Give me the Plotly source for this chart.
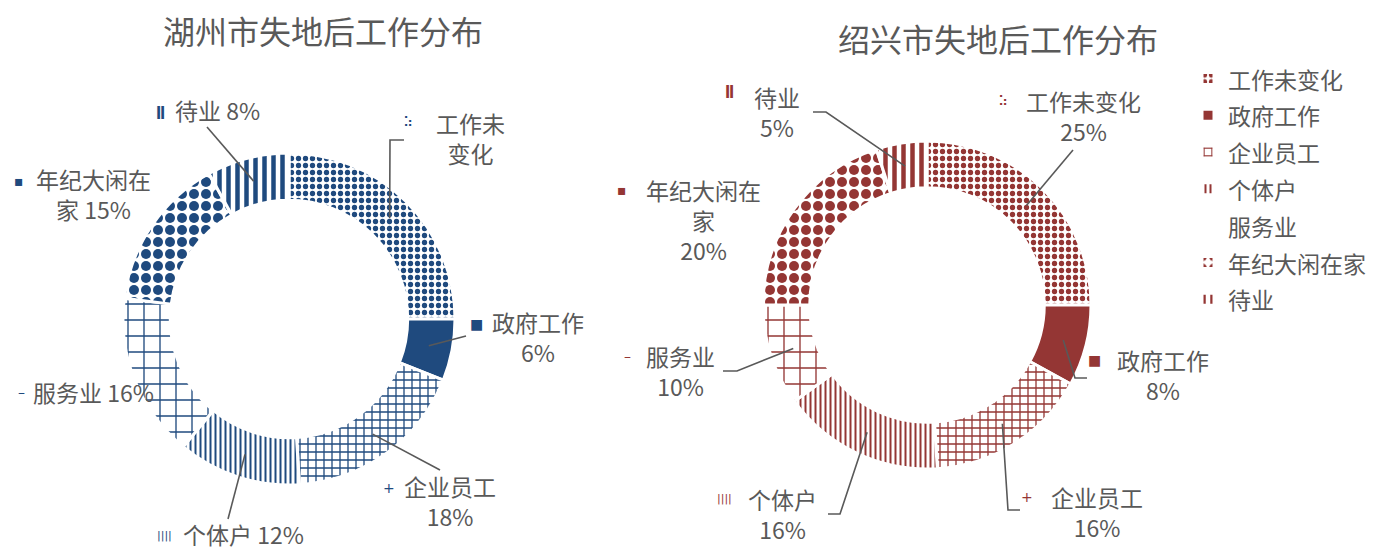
import math
import plotly.graph_objects as go

# the page adds an 8px body margin, so the figure is drawn 8px in from the window corner
PAGE_MARGIN = 8
W, H = 1376 - PAGE_MARGIN, 548 - PAGE_MARGIN

categories = ["工作未变化", "政府工作", "企业员工", "个体户", "服务业", "年纪大闲在家", "待业"]
huzhou_values = [25, 6, 18, 12, 16, 15, 8]
shaoxing_values = [25, 8, 16, 16, 10, 20, 5]

BLUE = "#1f4a7e"
RED = "#943634"
GREY = "#595959"
FONT = "Noto Sans CJK SC"

# pattern per category: (shape, size, solidity)
patterns = [(".", 7, 0.45), ("", 8, 1.0), ("+", 8, 0.3), ("|", 5, 0.4),
            ("+", 16, 0.16), (".", 12, 0.55), ("|", 9, 0.5)]
icons = ["⠵", "■", "+", "||||", "–", "▪", "<b>ǁ</b>"]


def px(x):
    return (x - PAGE_MARGIN) / W


def py(y):
    return 1 - (y - PAGE_MARGIN) / H


def pie(values, color, cx, cy, r, showlegend):
    # legend text drawn a bit smaller than the legend font to get wider row spacing
    legend_labels = [f"<span style='font-size:23px'>{c}</span>" for c in categories]
    return go.Pie(
        labels=legend_labels,
        values=values,
        sort=False,
        direction="clockwise",
        rotation=0,
        hole=0.715,
        textinfo="none",
        hoverinfo="skip",
        showlegend=showlegend,
        domain=dict(x=[px(cx - r), px(cx + r)], y=[py(cy + r), py(cy - r)]),
        marker=dict(
            colors=[color] * len(values),
            line=dict(color="white", width=3),
            pattern=dict(
                shape=[p[0] for p in patterns],
                size=[p[1] for p in patterns],
                solidity=[p[2] for p in patterns],
                fgcolor=color,
                bgcolor="white",
                fillmode="replace",
            ),
        ),
    )


def slice_anchor(values, i, cx, cy, r_mid):
    total = sum(values)
    ang = 2 * math.pi * (sum(values[:i]) + values[i] / 2) / total
    return cx + r_mid * math.sin(ang), cy - r_mid * math.cos(ang)


# chart geometry (window pixels): centre, outer radius
HZ = (289, 319, 166)
SX = (927, 305, 164)

# label layout per category: icon pos, text centre, text lines, leader elbow points
hz_labels = [
    ((408, 122), (470, 138), "工作未<br>变化", [(390, 140), (404, 140)]),
    ((476, 324), (538, 337), "政府工作<br>6%", [(466, 336)]),
    ((389, 488), (450, 501), "企业员工<br>18%", [(440, 470)]),
    ((164, 535), (243, 534), "个体户 12%", [(228, 519)]),
    ((21, 392), (93, 392), "服务业 16%", None),
    ((19, 181), (93, 194), "年纪大闲在<br>家 15%", None),
    ((160, 111), (217, 110), "待业 8%", [(207, 127)]),
]
sx_labels = [
    ((1003, 101), (1083, 116), "工作未变化<br>25%", [(1073, 150)]),
    ((1094, 360), (1163, 375), "政府工作<br>8%", [(1075, 378), (1087, 378)]),
    ((1027, 497), (1097, 512), "企业员工<br>16%", [(1008, 510), (1020, 510)]),
    ((724, 498), (782, 514), "个体户<br>16%", [(840, 514), (828, 514)]),
    ((627, 356), (680, 371), "服务业<br>10%", [(737, 371), (723, 371)]),
    ((622, 190), (703, 220), "年纪大闲在<br>家<br>20%", None),
    ((729, 90), (777, 112), "待业<br>5%", [(826, 112), (813, 112)]),
]

fig = go.Figure()
fig.add_trace(pie(huzhou_values, BLUE, *HZ, showlegend=False))
fig.add_trace(pie(shaoxing_values, RED, *SX, showlegend=True))

annotations = []
shapes = []
for values, color, geo, labels in [(huzhou_values, BLUE, HZ, hz_labels),
                                   (shaoxing_values, RED, SX, sx_labels)]:
    cx, cy, r = geo
    r_mid = r * (1 + 0.715) / 2
    for i, (icon_pos, text_pos, text, elbow) in enumerate(labels):
        annotations.append(dict(
            x=px(icon_pos[0]), y=py(icon_pos[1]), xref="paper", yref="paper",
            xanchor="center", yanchor="middle",
            text=icons[i], showarrow=False,
            font=dict(family="DejaVu Sans", size=11 if icons[i] == "||||" else 14, color=color),
        ))
        annotations.append(dict(
            x=px(text_pos[0]), y=py(text_pos[1]), xref="paper", yref="paper",
            xanchor="center", yanchor="middle",
            text=text, showarrow=False, align="center",
            font=dict(family=FONT, size=23, color=GREY),
        ))
        if elbow:
            ax, ay = slice_anchor(values, i, cx, cy, r_mid)
            pts = [(ax, ay)] + elbow
            path = "M " + " L ".join(f"{px(x):.5f},{py(y):.5f}" for x, y in pts)
            shapes.append(dict(type="path", path=path, xref="paper", yref="paper",
                               line=dict(color=GREY, width=1.6)))

annotations.append(dict(x=px(323), y=py(30), xref="paper", yref="paper",
                        xanchor="center", yanchor="middle",
                        text="湖州市失地后工作分布", showarrow=False,
                        font=dict(family=FONT, size=32, color=GREY)))
annotations.append(dict(x=px(998), y=py(38), xref="paper", yref="paper",
                        xanchor="center", yanchor="middle",
                        text="绍兴市失地后工作分布", showarrow=False,
                        font=dict(family=FONT, size=32, color=GREY)))

fig.update_layout(
    width=W,
    height=H,
    margin=dict(l=0, r=0, t=0, b=0),
    paper_bgcolor="white",
    plot_bgcolor="white",
    annotations=annotations,
    shapes=shapes,
    legend=dict(
        x=px(1188), y=py(55), xanchor="left", yanchor="top",
        font=dict(family=FONT, size=26, color=GREY),
        bgcolor="rgba(0,0,0,0)",
        itemclick=False,
    ),
)

fig.write_html("out.html")
